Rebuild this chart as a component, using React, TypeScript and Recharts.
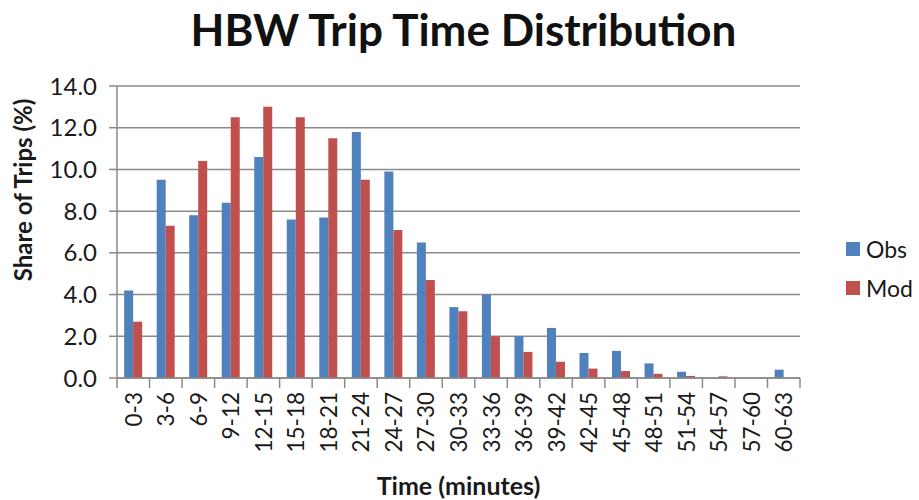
import React from 'react';
import { BarChart, Bar, XAxis, YAxis, CartesianGrid, Label } from 'recharts';

// Time bins (minutes)
const bins = [
  '0-3', '3-6', '6-9', '9-12', '12-15', '15-18', '18-21', '21-24', '24-27', '27-30',
  '30-33', '33-36', '36-39', '39-42', '42-45', '45-48', '48-51', '51-54', '54-57', '57-60', '60-63',
];

// Observed share of trips (%)
const obs = [4.2, 9.5, 7.8, 8.4, 10.6, 7.6, 7.7, 11.8, 9.9, 6.5, 3.4, 4.0, 2.0, 2.4, 1.2, 1.3, 0.7, 0.3, 0.0, 0.0, 0.4];

// Modelled share of trips (%)
const mod = [2.7, 7.3, 10.4, 12.5, 13.0, 12.5, 11.5, 9.5, 7.1, 4.7, 3.2, 2.0, 1.25, 0.78, 0.45, 0.33, 0.2, 0.1, 0.08, 0.0, 0.0];

const yTicks = [0, 2, 4, 6, 8, 10, 12, 14];

const series = [
  { key: 'Obs', color: '#4f81bd' },
  { key: 'Mod', color: '#c0504d' },
];

const data = bins.map((b, i) => ({ bin: b, Obs: obs[i], Mod: mod[i] }));

const FONT = 'Lato, "Open Sans", sans-serif';
const AXIS = '#8a8a8a';
const INK = '#1a1a1a';

const W = 919;
const H = 500;
const M = { top: 86, right: 119, bottom: 0, left: 0 };
const Y_AXIS_W = 117;
const X_AXIS_H = 122;
const BAND = (W - M.left - M.right - Y_AXIS_W) / bins.length;

// Category tick: tick marks sit on the category boundaries, label is vertical
const BinTick = (props: any) => {
  const { x, y, payload, index } = props;
  const left = x - BAND / 2;
  const right = x + BAND / 2;
  const ty = y + 14;
  return (
    <g>
      <line x1={left} y1={y} x2={left} y2={y + 10} stroke={AXIS} strokeWidth={1.5} />
      {index === bins.length - 1 && (
        <line x1={right} y1={y} x2={right} y2={y + 10} stroke={AXIS} strokeWidth={1.5} />
      )}
      <text
        x={x}
        y={ty}
        transform={`rotate(-90, ${x}, ${ty})`}
        textAnchor="end"
        dominantBaseline="central"
        fontFamily={FONT}
        fontSize={22.5}
        fill={INK}
      >
        {payload.value}
      </text>
    </g>
  );
};

export default function App() {
  return (
    <div style={{ position: 'absolute', left: 0, top: 0, width: W, height: H, background: '#fff' }}>
      <div
        style={{
          position: 'absolute',
          left: 0,
          top: 4,
          width: W + 8,
          textAlign: 'center',
          fontFamily: FONT,
          fontWeight: 700,
          fontSize: 44,
          color: '#111',
          lineHeight: '50px',
        }}
      >
        HBW Trip Time Distribution
      </div>
      <BarChart
        width={W}
        height={H}
        data={data}
        margin={M}
        barCategoryGap="22%"
        barGap={0}
      >
        <CartesianGrid vertical={false} stroke={AXIS} strokeWidth={1.5} />
        <XAxis
          dataKey="bin"
          interval={0}
          height={X_AXIS_H}
          tickSize={0}
          tickMargin={0}
          tickLine={false}
          axisLine={{ stroke: AXIS, strokeWidth: 1.5 }}
          tick={<BinTick />}
        >
          <Label
            value="Time (minutes)"
            position="insideBottom"
            offset={5}
            style={{ fontFamily: FONT, fontWeight: 700, fontSize: 25, fill: INK }}
          />
        </XAxis>
        <YAxis
          width={Y_AXIS_W}
          domain={[0, 14]}
          ticks={yTicks}
          interval={0}
          tickFormatter={(v: number) => v.toFixed(1)}
          tickSize={8}
          tickMargin={12}
          tickLine={{ stroke: AXIS, strokeWidth: 1.5 }}
          axisLine={{ stroke: AXIS, strokeWidth: 1.5 }}
          tick={{ fontFamily: FONT, fontSize: 24, fill: INK }}
        >
          <Label
            content={(p: any) => {
              const vb = p.viewBox;
              const cx = vb.x + 22;
              const cy = vb.y + vb.height / 2 - 42;
              return (
                <text
                  x={cx}
                  y={cy}
                  transform={`rotate(-90, ${cx}, ${cy})`}
                  textAnchor="middle"
                  dominantBaseline="central"
                  fontFamily={FONT}
                  fontWeight={700}
                  fontSize={24}
                  fill={INK}
                >
                  Share of Trips (%)
                </text>
              );
            }}
          />
        </YAxis>
        {series.map((s) => (
          <Bar key={s.key} dataKey={s.key} fill={s.color} isAnimationActive={false} />
        ))}
      </BarChart>
      <div
        style={{
          position: 'absolute',
          left: 846,
          top: 237,
          fontFamily: FONT,
          fontSize: 23,
          color: INK,
        }}
      >
        {series.map((s, i) => (
          <div
            key={s.key}
            style={{ display: 'flex', alignItems: 'center', height: 24, marginBottom: i === 0 ? 15 : 0 }}
          >
            <span style={{ display: 'inline-block', width: 14, height: 14, background: s.color, marginRight: 6 }} />
            <span>{s.key}</span>
          </div>
        ))}
      </div>
    </div>
  );
}
